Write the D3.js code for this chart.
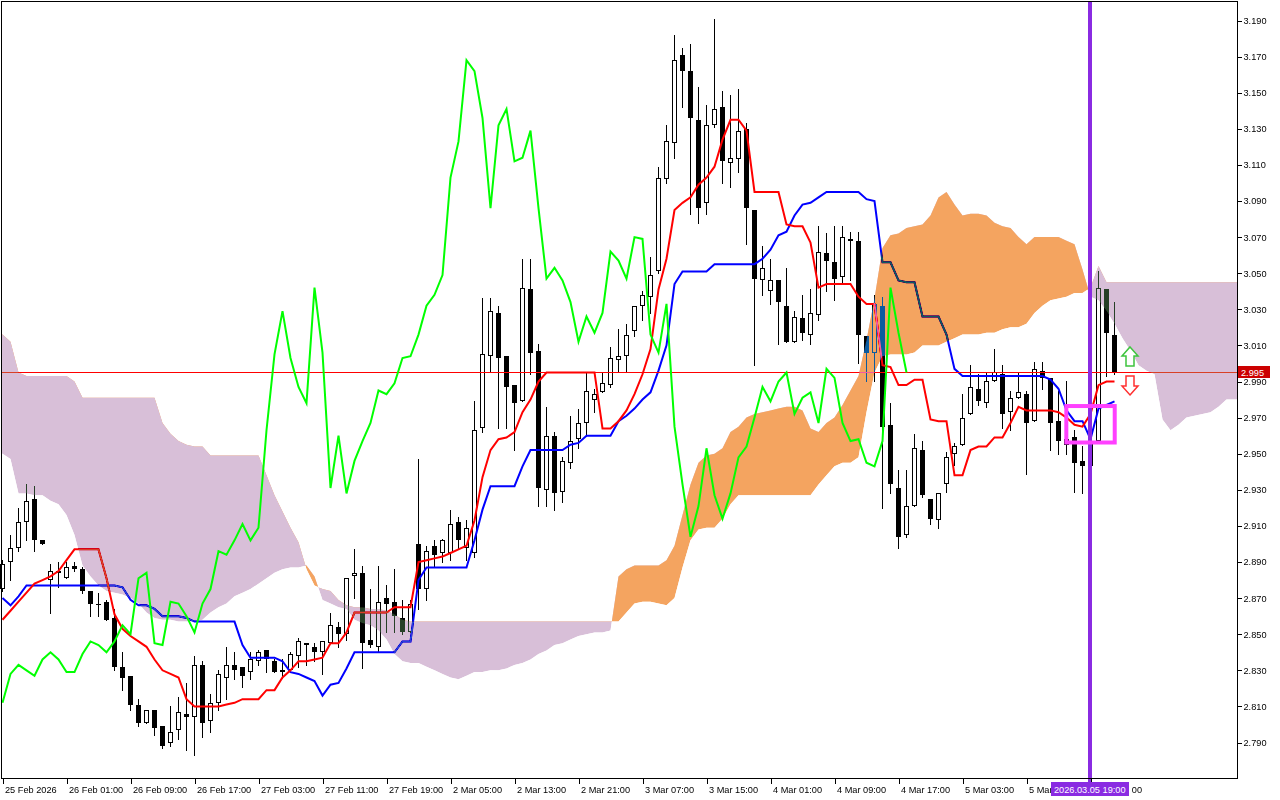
<!DOCTYPE html>
<html><head><meta charset="utf-8">
<script src="https://cdn.jsdelivr.net/npm/d3@7"></script>
<style>
html,body{margin:0;padding:0;background:#fff;}
svg{display:block;}
text{font-family:"Liberation Sans",Arial,sans-serif;font-size:9.2px;fill:#000;}
</style></head><body>
<svg id="c" width="1280" height="800"></svg>
<script>
// ---------- DATA (H1 candles, index 0 = 25 Feb 2026 17:00) ----------
const opens=[2.875,2.890,2.898,2.912,2.925,2.902,2.880,2.884,2.881,2.888,
2.886,2.874,2.867,2.868,2.859,2.832,2.827,2.811,2.801,2.808,
2.799,2.790,2.797,2.806,2.804,2.833,2.802,2.812,2.826,2.833,
2.832,2.829,2.835,2.841,2.835,2.830,2.830,2.838,2.845,2.843,
2.840,2.845,2.854,2.850,2.882,2.884,2.847,2.843,2.870,2.868,
2.859,2.851,2.900,2.875,2.899,2.895,2.895,2.912,2.898,2.895,
2.964,3.004,3.028,3.004,2.988,2.979,3.041,3.007,2.930,2.960,
2.929,2.945,2.958,2.967,2.980,2.984,2.988,3.002,3.004,3.018,
3.032,3.037,3.051,3.102,3.122,3.171,3.162,3.135,3.089,3.132,
3.142,3.111,3.113,3.130,3.085,3.046,3.040,3.046,3.032,3.012,
3.025,3.016,3.027,3.061,3.056,3.048,3.068,3.068,3.015,3.006,
3.032,2.966,2.931,2.905,2.921,2.952,2.925,2.913,2.933,2.950,
2.955,2.972,2.986,2.978,2.990,2.994,2.973,2.981,2.983,2.968,
2.996,2.992,2.968,2.955,2.959,2.946,2.943,2.957,3.041,3.016];
const highs=[2.891,2.905,2.920,2.933,2.932,2.902,2.889,2.890,2.890,2.890,
2.887,2.874,2.873,2.869,2.864,2.840,2.827,2.814,2.808,2.808,
2.799,2.810,2.815,2.823,2.838,2.835,2.817,2.830,2.843,2.840,
2.832,2.840,2.841,2.841,2.836,2.836,2.840,2.848,2.845,2.845,
2.846,2.862,2.857,2.881,2.897,2.888,2.875,2.888,2.877,2.886,
2.869,2.869,2.947,2.899,2.902,2.903,2.919,2.915,2.913,2.979,
3.036,3.036,3.032,3.004,2.988,3.058,3.058,3.011,2.976,2.962,
2.948,2.971,2.975,2.995,2.986,2.995,3.009,3.019,3.022,3.032,
3.040,3.059,3.109,3.132,3.182,3.175,3.177,3.153,3.143,3.191,
3.151,3.149,3.152,3.133,3.085,3.065,3.058,3.046,3.053,3.029,
3.038,3.041,3.076,3.072,3.076,3.076,3.073,3.073,3.015,3.038,
3.037,2.978,2.941,2.941,2.961,2.957,2.925,2.928,2.951,2.956,
2.983,2.999,2.994,2.995,3.008,2.999,2.985,2.995,2.985,3.001,
3.001,2.992,2.985,2.990,2.963,2.954,2.959,3.051,3.041,3.034];
const lows=[2.874,2.880,2.896,2.902,2.896,2.900,2.862,2.876,2.881,2.885,
2.873,2.860,2.860,2.858,2.830,2.819,2.808,2.799,2.801,2.794,
2.787,2.788,2.792,2.786,2.783,2.793,2.796,2.808,2.814,2.825,
2.821,2.825,2.833,2.829,2.829,2.826,2.829,2.832,2.833,2.835,
2.828,2.845,2.843,2.847,2.870,2.831,2.843,2.840,2.851,2.851,
2.850,2.851,2.864,2.869,2.888,2.890,2.891,2.898,2.891,2.893,
2.962,2.996,2.964,2.964,2.952,2.979,2.994,2.921,2.921,2.919,
2.923,2.942,2.953,2.960,2.973,2.984,2.987,2.995,2.996,3.015,
3.024,3.028,3.050,3.100,3.114,3.142,3.083,3.078,3.083,3.131,
3.100,3.098,3.106,3.066,2.999,3.038,3.033,3.011,3.012,3.012,
3.013,3.011,3.024,3.040,3.035,3.045,3.046,3.000,2.990,2.990,
2.920,2.928,2.898,2.904,2.921,2.926,2.911,2.909,2.929,2.944,
2.955,2.972,2.977,2.976,2.990,2.964,2.963,2.981,2.939,2.968,
2.986,2.952,2.950,2.950,2.929,2.928,2.941,2.957,2.993,2.994];
const closes=[2.889,2.898,2.912,2.924,2.902,2.900,2.885,2.885,2.887,2.886,
2.874,2.867,2.866,2.858,2.832,2.826,2.811,2.801,2.808,2.798,
2.788,2.796,2.807,2.804,2.833,2.801,2.812,2.828,2.833,2.830,
2.827,2.836,2.840,2.836,2.829,2.829,2.839,2.846,2.844,2.840,
2.846,2.855,2.850,2.881,2.884,2.845,2.844,2.868,2.867,2.860,
2.851,2.867,2.875,2.896,2.894,2.902,2.911,2.902,2.909,2.963,
3.005,3.029,3.003,2.987,2.978,3.042,3.006,2.931,2.960,2.928,
2.946,2.957,2.967,2.985,2.983,2.989,3.003,3.004,3.016,3.032,
3.038,3.049,3.103,3.123,3.168,3.162,3.136,3.086,3.132,3.141,
3.112,3.114,3.129,3.086,3.047,3.053,3.046,3.034,3.012,3.026,
3.017,3.028,3.062,3.057,3.047,3.070,3.069,3.016,3.006,3.033,
2.965,2.933,2.904,2.921,2.953,2.927,2.914,2.928,2.948,2.954,
2.970,2.987,2.979,2.990,2.995,2.972,2.981,2.984,2.967,2.997,
2.992,2.967,2.957,2.958,2.945,2.943,2.957,3.042,3.017,2.995];
const tenkan=[2.858,2.863,2.868,2.873,2.878,2.880,2.882,2.885,2.891,2.897,
2.897,2.897,2.897,2.881,2.861,2.853,2.849,2.846,2.843,2.836,
2.830,2.828,2.826,2.814,2.810,2.810,2.810,2.810,2.811,2.812,
2.814,2.814,2.814,2.819,2.819,2.826,2.830,2.835,2.835,2.836,
2.837,2.845,2.845,2.851,2.862,2.862,2.862,2.862,2.862,2.865,
2.865,2.865,2.890,2.891,2.892,2.893,2.895,2.897,2.899,2.913,
2.937,2.952,2.958,2.959,2.962,2.973,2.980,2.990,2.995,2.995,
2.995,2.995,2.995,2.995,2.995,2.964,2.964,2.968,2.974,2.983,
2.994,3.008,3.041,3.058,3.085,3.089,3.092,3.099,3.103,3.109,
3.124,3.135,3.135,3.129,3.095,3.095,3.095,3.095,3.077,3.076,
3.076,3.067,3.042,3.044,3.044,3.044,3.044,3.037,3.033,3.033,
2.999,2.998,2.988,2.988,2.991,2.991,2.969,2.968,2.968,2.938,
2.938,2.952,2.954,2.954,2.959,2.959,2.967,2.976,2.974,2.974,
2.974,2.974,2.973,2.970,2.966,2.965,2.972,2.988,2.990,2.990];
const kijun=[2.870,2.866,2.871,2.877,2.877,2.877,2.877,2.877,2.877,2.877,
2.877,2.877,2.877,2.877,2.877,2.876,2.869,2.866,2.866,2.864,
2.860,2.860,2.860,2.859,2.857,2.857,2.857,2.857,2.857,2.857,
2.844,2.837,2.837,2.837,2.837,2.835,2.829,2.828,2.826,2.824,
2.816,2.822,2.823,2.831,2.840,2.840,2.840,2.840,2.840,2.840,
2.846,2.846,2.880,2.887,2.887,2.887,2.887,2.887,2.887,2.902,
2.919,2.932,2.932,2.932,2.932,2.943,2.952,2.952,2.952,2.952,
2.952,2.955,2.956,2.960,2.960,2.960,2.960,2.968,2.971,2.975,
2.980,2.984,2.996,3.010,3.044,3.051,3.051,3.051,3.051,3.055,
3.055,3.055,3.055,3.055,3.055,3.058,3.063,3.071,3.073,3.082,
3.088,3.089,3.092,3.095,3.095,3.095,3.095,3.095,3.091,3.090,
3.056,3.056,3.046,3.045,3.045,3.026,3.026,3.026,3.016,2.997,
2.993,2.993,2.993,2.993,2.993,2.993,2.993,2.993,2.993,2.993,
2.993,2.991,2.986,2.974,2.968,2.968,2.958,2.975,2.977,2.979];
const spanA=[2.950,2.947,2.928,2.928,2.927,2.927,2.924,2.922,2.916,2.905,
2.888,2.882,2.877,2.874,2.873,2.872,2.870,2.867,2.862,2.859,
2.858,2.858,2.857,2.857,2.857,2.858,2.862,2.865,2.867,2.871,
2.873,2.875,2.878,2.881,2.884,2.886,2.887,2.887,2.888,2.882,
2.869,2.867,2.865,2.864,2.858,2.856,2.855,2.852,2.847,2.839,
2.835,2.834,2.834,2.832,2.830,2.828,2.826,2.825,2.827,2.829,
2.829,2.830,2.830,2.831,2.833,2.834,2.836,2.839,2.841,2.844,
2.845,2.847,2.849,2.850,2.851,2.851,2.852,2.882,2.886,2.888,
2.888,2.888,2.888,2.891,2.899,2.916,2.933,2.945,2.949,2.950,
2.953,2.962,2.965,2.970,2.972,2.973,2.974,2.975,2.976,2.976,
2.974,2.964,2.962,2.967,2.970,2.977,2.985,2.993,3.013,3.036,
3.064,3.071,3.072,3.075,3.076,3.077,3.082,3.092,3.095,3.088,
3.082,3.083,3.083,3.082,3.078,3.076,3.075,3.070,3.066,3.070,
3.070,3.070,3.070,3.068,3.066,3.052,3.037,3.035,3.029,3.022,
3.014,3.007,2.999,2.996,2.994,2.969,2.963,2.966,2.970,2.971,
2.972,2.973,2.976,2.980,2.980];
const spanB=[3.016,3.012,2.995,2.993,2.993,2.993,2.993,2.993,2.993,2.990,
2.981,2.981,2.981,2.981,2.981,2.981,2.981,2.981,2.981,2.981,
2.967,2.961,2.957,2.955,2.954,2.954,2.949,2.949,2.949,2.949,
2.949,2.949,2.949,2.938,2.927,2.918,2.909,2.901,2.886,2.877,
2.875,2.874,2.869,2.866,2.865,2.865,2.864,2.864,2.863,2.861,
2.858,2.857,2.857,2.857,2.857,2.857,2.857,2.857,2.857,2.857,
2.857,2.857,2.857,2.857,2.857,2.857,2.857,2.857,2.857,2.857,
2.857,2.857,2.857,2.857,2.857,2.857,2.857,2.857,2.862,2.867,
2.868,2.868,2.867,2.866,2.870,2.887,2.902,2.908,2.909,2.909,
2.914,2.922,2.927,2.927,2.927,2.927,2.927,2.927,2.927,2.927,
2.927,2.927,2.933,2.938,2.943,2.945,2.945,2.948,2.973,2.995,
3.004,3.005,3.005,3.005,3.006,3.010,3.010,3.010,3.012,3.014,
3.016,3.016,3.016,3.017,3.017,3.019,3.020,3.020,3.022,3.028,
3.032,3.035,3.036,3.037,3.039,3.039,3.042,3.054,3.045,3.045,
3.045,3.045,3.045,3.045,3.045,3.045,3.045,3.045,3.045,3.045,
3.045,3.045,3.045,3.045,3.045];
const chikouShift=26;
const priceTicks=[3.190,3.170,3.150,3.130,3.110,3.090,3.070,3.050,3.030,3.010,2.990,2.970,2.950,2.930,2.910,2.890,2.870,2.850,2.830,2.810,2.790];
const timeLabels=["25 Feb 2026","26 Feb 01:00","26 Feb 09:00","26 Feb 17:00","27 Feb 03:00","27 Feb 11:00","27 Feb 19:00","2 Mar 05:00","2 Mar 13:00","2 Mar 21:00","3 Mar 07:00","3 Mar 15:00","4 Mar 01:00","4 Mar 09:00","4 Mar 17:00","5 Mar 03:00","5 Mar 11:00","5 Mar 19:00"];
const timeLabelBars=[0,8,16,24,32,40,48,56,64,72,80,88,96,104,112,120,128,136];
const lastPrice=2.995;
const markerBar=136;
const markerLabel="2026.03.05 19:00";
const boxBars=[133.04,139.09];
const boxPrices=[2.9764,2.9562];
const upArrowPrice=3.0036;
const downArrowPrice=2.9881;
const arrowBar=141;

// ---------- LAYOUT ----------
const plot={l:1,r:1237,t:1,b:778};
const svg=d3.select("#c");
const x=d3.scaleLinear().domain([0,154]).range([2,1234]);
const y=d3.scaleLinear().domain([2.79,3.19]).range([742.5,20.5]);
const cx=i=>x(i)+0.5;
const bars=d3.range(opens.length);

svg.append("rect").attr("x",0).attr("y",0).attr("width",1280).attr("height",800).attr("fill","#fff");

// candles
const cg=svg.append("g");
cg.selectAll("line.w").data(bars).join("line")
  .attr("x1",cx).attr("x2",cx)
  .attr("y1",i=>Math.round(y(highs[i])))
  .attr("y2",i=>Math.round(y(lows[i]))+1)
  .attr("stroke","#000").attr("stroke-width",1).attr("shape-rendering","crispEdges");
cg.selectAll("rect.b").data(bars).join("rect")
  .each(function(i){
    const bull=closes[i]>=opens[i];
    const top=Math.round(y(Math.max(opens[i],closes[i])));
    const bot=Math.round(y(Math.min(opens[i],closes[i])));
    const s=d3.select(this).attr("shape-rendering","crispEdges");
    if(bull && bot-top>=3){
      s.attr("x",cx(i)-2).attr("y",top+0.5).attr("width",4).attr("height",bot-top-1)
       .attr("fill","#fff").attr("stroke","#000").attr("stroke-width",1);
    } else {
      s.attr("x",cx(i)-2.5).attr("y",top).attr("width",5).attr("height",Math.max(1,bot-top))
       .attr("fill","#000");
    }
  });

// tenkan / kijun
const lineOf=arr=>d3.line().x((d,i)=>x(i)+0.5).y(d=>y(d))(arr);
svg.append("path").attr("d",lineOf(kijun)).attr("fill","none").attr("stroke","#0000ff").attr("stroke-width",2);
svg.append("path").attr("d",lineOf(tenkan)).attr("fill","none").attr("stroke","#ff0000").attr("stroke-width",2);

// current price line
const py=Math.round(y(lastPrice))+0.5;
svg.append("line").attr("x1",plot.l).attr("x2",plot.r).attr("y1",py).attr("y2",py)
  .attr("stroke","#ff0000").attr("stroke-width",1).attr("shape-rendering","crispEdges");

// cloud (difference blending reproduces the terminal's XOR-style fill)
const pts=[{x:plot.l,a:spanA[0],b:spanB[0]}]
  .concat(spanA.map((a,i)=>({x:x(i)+0.5,a:a,b:spanB[i]})))
  .concat([{x:plot.r,a:spanA[spanA.length-1],b:spanB[spanB.length-1]}]);
const between=d3.area().x(d=>d.x).y0(d=>y(d.a)).y1(d=>y(d.b));
const aboveB=d3.area().x(d=>d.x).y0(plot.t).y1(d=>y(d.b));
const aboveA=d3.area().x(d=>d.x).y0(plot.t).y1(d=>y(d.a));
const defs=svg.append("defs");
defs.append("clipPath").attr("id","cB").append("path").attr("d",aboveB(pts));
defs.append("clipPath").attr("id","cA").append("path").attr("d",aboveA(pts));
svg.append("path").attr("d",between(pts)).attr("clip-path","url(#cB)")
  .attr("fill","#0b5b9f").style("mix-blend-mode","difference");
svg.append("path").attr("d",between(pts)).attr("clip-path","url(#cA)")
  .attr("fill","#274027").style("mix-blend-mode","difference");

// chikou span
const chikou=closes.slice(chikouShift);
svg.append("path").attr("d",lineOf(chikou)).attr("fill","none").attr("stroke","#00ff00").attr("stroke-width",2);

// vertical marker line
svg.append("rect").attr("x",Math.round(x(markerBar))-2).attr("y",plot.t).attr("width",4).attr("height",plot.b-plot.t+5)
  .attr("fill","#8a2be2");

// magenta box
const bx0=x(boxBars[0]),bx1=x(boxBars[1]),by0=y(boxPrices[0]),by1=y(boxPrices[1]);
svg.append("rect").attr("x",bx0).attr("y",by0).attr("width",bx1-bx0).attr("height",by1-by0)
  .attr("fill","none").attr("stroke","#ff40ff").attr("stroke-width",4);

// arrows
const ax=x(arrowBar);
const up=[[0,-10],[8,-1],[4,-1],[4,9],[-4,9],[-4,-1],[-8,-1]];
svg.append("path").attr("d",d3.line()(up.map(p=>[ax+p[0],y(upArrowPrice)+p[1]]))+"Z")
  .attr("fill","#fff").attr("stroke","#3ec43e").attr("stroke-width",1.5);
svg.append("path").attr("d",d3.line()(up.map(p=>[ax+p[0],y(downArrowPrice)-p[1]]))+"Z")
  .attr("fill","#fff").attr("stroke","#ff3030").attr("stroke-width",1.5);

// frame
svg.append("rect").attr("x",plot.l+0.5).attr("y",plot.t+0.5).attr("width",plot.r-plot.l).attr("height",plot.b-plot.t)
  .attr("fill","none").attr("stroke","#000").attr("stroke-width",1).attr("shape-rendering","crispEdges");

// price axis
const ya=svg.append("g").attr("transform",`translate(${plot.r+0.5},0)`)
  .call(d3.axisRight(y).tickValues(priceTicks).tickFormat(d3.format(".3f")).tickSize(4).tickPadding(2));
ya.select(".domain").remove();
ya.selectAll("line").attr("stroke","#000").attr("shape-rendering","crispEdges");
ya.selectAll("text").style("font-family","Liberation Sans, Arial, sans-serif").style("font-size","9.2px").attr("fill","#000");

// price label
svg.append("rect").attr("x",1238).attr("y",py-6.5).attr("width",32).attr("height",12).attr("fill","#cc0000");
svg.append("text").attr("x",1241).attr("y",py+3.5).attr("fill","#fff").style("fill","#fff").text(d3.format(".3f")(lastPrice));

// time axis
const mbox={x0:1051,x1:1129};
const xs=d3.scaleLinear().domain([0,154]).range([2.5,1234.5]);
const xa=svg.append("g").attr("transform",`translate(0,${plot.b+0.5})`)
  .call(d3.axisBottom(xs).tickValues(timeLabelBars).tickFormat((d,k)=>timeLabels[k]).tickSize(5).tickPadding(3));
xa.select(".domain").remove();
xa.selectAll("line").attr("stroke","#000").attr("shape-rendering","crispEdges");
xa.selectAll("text").attr("text-anchor","start").attr("x",2).attr("dy","0.71em")
  .style("font-family","Liberation Sans, Arial, sans-serif").style("font-size","9.2px").attr("fill","#000");
// labels partly hidden behind the marker label keep only their visible part
xa.selectAll(".tick").each(function(d){
  const t=d3.select(this).select("text");
  const node=t.node();
  const full=node.textContent;
  const x0=xs(d)+2;
  const n=full.length;
  const widthTo=k=>k===0?0:node.getSubStringLength(0,k);
  const wFull=widthTo(n);
  if(x0<mbox.x0 && x0+wFull>mbox.x0){
    let k=n; while(k>0 && x0+widthTo(k)>mbox.x0+3) k--;
    t.text(full.slice(0,k).trim());
  } else if(x0>=mbox.x0 && x0<=mbox.x1){
    let k=0; while(k<n && x0+widthTo(k)<mbox.x1+1) k++;
    const off=widthTo(k);
    t.text(full.slice(k)).attr("x",2+off);
  }
});

// marker time label
svg.append("rect").attr("x",mbox.x0).attr("y",782).attr("width",mbox.x1-mbox.x0).attr("height",14).attr("fill","#8a2be2");
svg.append("text").attr("x",mbox.x0+3).attr("y",792.5).style("fill","#fff").text(markerLabel);
</script>
</body></html>
